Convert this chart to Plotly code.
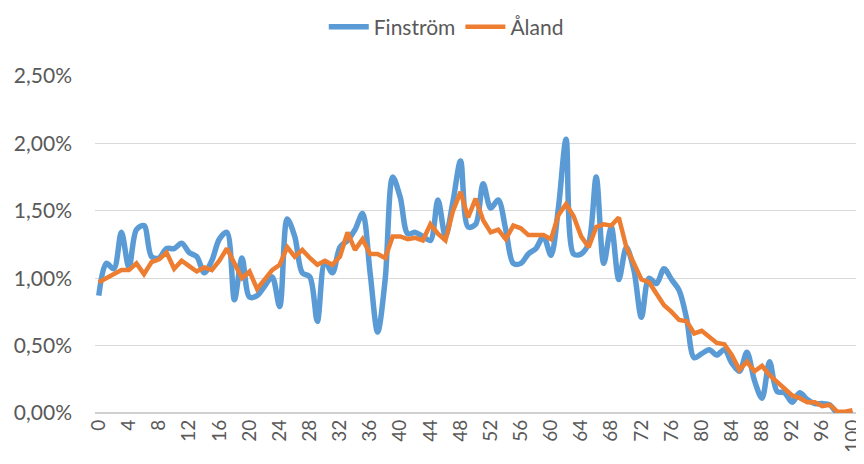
import plotly.graph_objects as go

ages = list(range(0, 101))

finstrom = [
    0.87, 1.11, 1.07, 1.34, 1.08, 1.36, 1.39, 1.16, 1.15, 1.22,
    1.22, 1.26, 1.19, 1.16, 1.04, 1.13, 1.29, 1.34, 0.84, 1.15,
    0.86, 0.87, 0.94, 1.01, 0.79, 1.44, 1.31, 1.04, 1.01, 0.68,
    1.12, 1.04, 1.23, 1.28, 1.36, 1.48, 1.04, 0.60, 0.99, 1.75,
    1.60, 1.33, 1.34, 1.31, 1.28, 1.58, 1.31, 1.57, 1.87, 1.38,
    1.40, 1.70, 1.52, 1.58, 1.36, 1.11, 1.11, 1.18, 1.22, 1.31,
    1.17, 1.53, 2.03, 1.18, 1.18, 1.26, 1.75, 1.11, 1.38, 0.99,
    1.23, 1.06, 0.71, 1.00, 0.96, 1.07, 0.99, 0.91, 0.70, 0.41,
    0.44, 0.47, 0.43, 0.47, 0.37, 0.31, 0.45, 0.24, 0.11, 0.38,
    0.16, 0.15, 0.08, 0.15, 0.10, 0.07, 0.07, 0.06, 0.00, 0.00,
    0.01,
]

aland = [
    0.97, 1.00, 1.03, 1.06, 1.06, 1.11, 1.03, 1.12, 1.14, 1.19,
    1.07, 1.13, 1.09, 1.05, 1.08, 1.06, 1.13, 1.22, 1.11, 1.00,
    1.05, 0.92, 0.99, 1.06, 1.10, 1.23, 1.16, 1.21, 1.15, 1.10,
    1.13, 1.10, 1.16, 1.34, 1.21, 1.29, 1.18, 1.18, 1.15, 1.31,
    1.31, 1.29, 1.30, 1.28, 1.40, 1.33, 1.28, 1.50, 1.64, 1.45,
    1.59, 1.43, 1.34, 1.36, 1.29, 1.39, 1.37, 1.32, 1.32, 1.32,
    1.29, 1.47, 1.55, 1.46, 1.31, 1.23, 1.38, 1.40, 1.39, 1.45,
    1.23, 1.11, 0.99, 0.97, 0.89, 0.80, 0.75, 0.69, 0.68, 0.59,
    0.61, 0.57, 0.52, 0.51, 0.43, 0.32, 0.38, 0.31, 0.35, 0.28,
    0.23, 0.18, 0.13, 0.11, 0.08, 0.08, 0.05, 0.06, 0.01, 0.01,
    0.02,
]

x_ticks = list(range(0, 101, 4))

fig = go.Figure()
fig.add_trace(go.Scatter(
    x=ages, y=[v / 100 for v in finstrom], name="Finström", mode="lines",
    line=dict(color="#5B9BD5", width=5.5, shape="spline", smoothing=0.9),
))
fig.add_trace(go.Scatter(
    x=ages, y=[v / 100 for v in aland], name="Åland", mode="lines",
    line=dict(color="#ED7D31", width=4.5),
))

font_family = "Lato, 'Open Sans', sans-serif"
fs = 21
# the page body has an 8px default margin, so the figure is sized 856x456
fig.update_layout(
    width=856, height=456,
    margin=dict(l=87, r=4, t=68, b=51, autoexpand=False),
    paper_bgcolor="white", plot_bgcolor="white",
    separators=", ",
    font=dict(family=font_family, size=fs, color="#595959"),
    showlegend=True,
    legend=dict(orientation="h", x=0.512, xanchor="center", xref="container",
                y=0.958, yanchor="middle", yref="container",
                font=dict(size=fs, color="#595959"),
                itemwidth=40, traceorder="normal"),
    xaxis=dict(
        range=[-0.5, 101], tickmode="array", tickvals=x_ticks,
        ticktext=[str(t) for t in x_ticks], tickangle=-90,
        showgrid=False, zeroline=False, showline=False, automargin=False,
        ticks="", ticklabeloverflow="allow", ticklabelstandoff=2,
        tickfont=dict(size=19, color="#595959"),
    ),
    yaxis=dict(
        range=[0, 0.025], tickvals=[0, 0.005, 0.01, 0.015, 0.02, 0.025],
        tickformat=".2%", showgrid=True, gridcolor="#d9d9d9", gridwidth=1,
        zeroline=True, zerolinecolor="#d0d0d0", zerolinewidth=1.5,
        showline=False, ticks="", ticklabelstandoff=22, automargin=False,
        tickfont=dict(size=fs, color="#595959"),
    ),
)

fig.write_html("out.html")
